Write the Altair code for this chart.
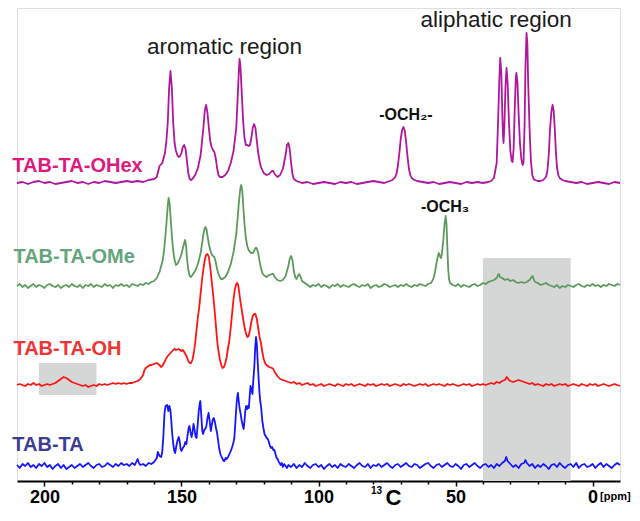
import altair as alt
import pandas as pd

# ---------------- data ----------------
series_names = ["TAB-TA-OHex", "TAB-TA-OMe", "TAB-TA-OH", "TAB-TA"]
series_offsets = [298, 195, 96, 15]
line_colors = ["#b0159f", "#5c9a5c", "#ff1414", "#1414ff"]
label_colors = ["#e0197f", "#63a57c", "#f03434", "#3d3d96"]
label_ppm = [211.7, 211.3, 211.3, 211.7]
label_y = [315, 224, 132, 36]

# (ppm, intensity) pairs
ohex = [(210,0),(208,1),(206,-1),(204,1),(202,2),(200,0),(198,1),(196,-1),(194,0),(192,1),(190,2),(188,0),(186,1),(184,-1),(182,1),(180,0),(178,2),(176,1),(174,0),(172,1),(170,2),(168,1),(166,2),(164,1),(162,3),(160,4),(159,6),(158,17),(157,20),(156,30),(155.5,42),(155,60),(154.5,95),(154,112),(153.5,95),(153,60),(152.5,40),(152,32),(151.5,28),(151,26),(150.5,27),(150,30),(149.5,36),(149,38),(148.5,34),(148,22),(147.5,10),(147,4),(146.5,3),(146,4),(145,8),(144,15),(143,28),(142,55),(141.5,72),(141,78),(140.5,70),(140,55),(139.5,42),(139,36),(138.5,33),(138,31),(137.5,25),(137,15),(136.5,8),(136,6),(135,6),(134,8),(133,12),(132,20),(131,32),(130,55),(129.5,85),(129,115),(128.8,124),(128.5,118),(128,90),(127.5,62),(127,45),(126.5,38),(126,38),(125.5,37),(125,38),(124.5,45),(124,55),(123.5,59),(123,55),(122.5,42),(122,30),(121.5,22),(121,16),(120,10),(119,8),(118,9),(117,12),(116.5,12),(116,9),(115,6),(114,8),(113,14),(112,28),(111.5,38),(111,40),(110.5,34),(110,20),(109.5,9),(109,4),(108,2),(107,1),(106,0),(104,1),(102,-1),(100,0),(98,1),(96,0),(94,-1),(92,1),(90,0),(88,1),(86,-1),(84,0),(82,1),(80,2),(78,1),(76,0),(74,2),(73,3),(72,6),(71.5,10),(71,18),(70.5,30),(70,44),(69.5,53),(69,56),(68.5,52),(68,40),(67.5,26),(67,14),(66.5,8),(66,5),(65,3),(64,2),(62,1),(60,0),(58,1),(56,-1),(54,0),(52,1),(50,0),(48,-1),(46,1),(44,0),(42,1),(40,0),(38,1),(37,2),(36,5),(35,20),(34.5,60),(34,105),(33.7,125),(33.3,110),(33,75),(32.7,48),(32.5,40),(32.2,55),(31.8,95),(31.4,115),(31,100),(30.5,60),(30,32),(29.5,22),(29.2,21),(28.8,35),(28.4,75),(28,105),(27.8,110),(27.4,100),(27,70),(26.5,40),(26,24),(25.5,18),(25.2,20),(24.8,60),(24.5,115),(24.1,150),(23.8,140),(23.5,100),(23,55),(22.5,22),(22,8),(21.5,4),(21,3),(20,2),(19,2),(18,3),(17,6),(16.5,12),(16,28),(15.5,55),(15,72),(14.6,78),(14.2,72),(13.8,55),(13.4,32),(13,16),(12.5,8),(12,5),(11,3),(10,2),(8,1),(6,0),(4,1),(2,-1),(0,0),(-2,1),(-4,0),(-6,-1),(-8,1),(-10,0)]

ome = [(210,0),(209,2),(208,-1),(207,1),(206,-2),(205,0),(204,2),(203,-1),(202,1),(201,0),(200,-2),(199,1),(198,2),(197,0),(196,-1),(195,1),(194,-2),(193,0),(192,1),(191,-1),(190,2),(189,0),(188,-1),(187,1),(186,-2),(185,1),(184,0),(183,2),(182,-1),(181,1),(180,0),(179,-1),(178,2),(177,0),(176,1),(175,-2),(174,1),(173,0),(172,2),(171,0),(170,1),(169,-1),(168,2),(167,1),(166,0),(165,2),(164,1),(163,3),(162,2),(161,4),(160,5),(159,8),(158,14),(157,24),(156.5,32),(156,45),(155.5,62),(155,80),(154.7,88),(154.3,82),(154,70),(153.5,50),(153,35),(152.5,26),(152,21),(151.5,22),(151,25),(150.5,28),(150,32),(149.3,40),(148.7,46),(148.3,40),(148,28),(147.5,16),(147,10),(146.5,9),(146,11),(145,15),(144,22),(143,33),(142.5,42),(142,52),(141.5,58),(141.2,59),(140.8,56),(140.5,50),(140,42),(139.5,36),(139,32),(138.5,30),(138,29),(137.5,24),(137,17),(136.5,12),(136,9),(135.5,7),(135,7),(134,9),(133,14),(132,22),(131,34),(130,52),(129.5,68),(129,85),(128.5,98),(128.2,101),(127.8,95),(127.5,82),(127,62),(126.5,48),(126,40),(125.5,36),(125,34),(124.5,33),(124,33),(123.5,35),(123,38),(122.6,38),(122,33),(121.5,25),(121,18),(120.5,13),(120,11),(119,9),(118,11),(117,12),(116.5,12),(116,9),(115,6),(114,5),(113,6),(112,10),(111,20),(110.5,27),(110,30),(109.5,26),(109,15),(108.5,9),(108,7),(107.5,10),(107,12),(106.5,9),(106,5),(105,3),(104,1),(103,-1),(102,1),(101,0),(100,2),(99,-1),(98,1),(97,0),(96,-2),(95,1),(94,0),(93,2),(92,-1),(91,1),(90,0),(89,-1),(88,1),(87,2),(86,0),(85,-1),(84,1),(83,0),(82,2),(81,-2),(80,0),(79,1),(78,-1),(77,0),(76,2),(75,1),(74,-1),(73,0),(72,1),(71,-1),(70,1),(69,0),(68,2),(67,0),(66,-1),(65,1),(64,0),(63,2),(62,1),(61,0),(60,2),(59,3),(58.5,5),(58,8),(57.5,14),(57,22),(56.5,29),(56.1,33),(55.7,30),(55.3,28),(55,32),(54.5,45),(54,62),(53.6,70),(53.3,62),(53,40),(52.7,18),(52.4,7),(52,3),(51,1),(50,0),(49,2),(48,-1),(47,1),(46,0),(45,-1),(44,1),(43,2),(42,0),(41,1),(40,3),(39,2),(38,4),(37,5),(36,6),(35,8),(34.5,11),(34.2,12),(33.8,9),(33,8),(32,6),(31,7),(30,5),(29,6),(28,4),(27,3),(26,4),(25,3),(24,4),(23,6),(22.5,8),(21.9,10),(21.5,7),(21,4),(20,3),(19,1),(18,2),(17,3),(16,1),(15,0),(14,-1),(13,1),(12,-2),(11,0),(10,-1),(9,1),(8,0),(7,-1),(6,1),(5,2),(4,0),(3,-1),(2,1),(1,0),(0,2),(-1,0),(-2,1),(-3,-1),(-4,1),(-5,0),(-6,2),(-7,1),(-8,0),(-9,2),(-10,1)]

oh = [(210,0),(209,1),(208,0),(207,-1),(206,1),(205,0),(204,2),(203,0),(202,1),(201,-1),(200,0),(199,1),(198,0),(197,1),(196,2),(195,4),(194,6),(193,8),(192,7),(191,5),(190,3),(189,2),(188,1),(187,0),(186,-1),(185,0),(184,-2),(183,-1),(182,0),(181,-1),(180,1),(179,0),(178,1),(177,0),(176,1),(175,2),(174,1),(173,2),(172,1),(171,2),(170,1),(169,2),(168,2),(167,3),(166,4),(165,6),(164,10),(163.5,15),(163,17),(162,19),(161.5,20),(161,20),(160,21),(159,22),(158,20),(157.5,18),(157,19),(156,24),(155.5,27),(155,29),(154,32),(153,35),(152.5,36),(152,35),(151,36),(150,34),(149.5,35),(149,33),(148,28),(147.5,24),(147,22),(146.5,22),(146,25),(145.5,32),(145,42),(144.5,55),(144,68),(143.5,78),(143,92),(142.5,105),(142,116),(141.5,125),(141,130),(140.5,131),(140,128),(139.5,118),(139,105),(138.5,92),(138,78),(137.5,62),(137,45),(136.5,34),(136,26),(135.5,20),(135,17),(134.5,18),(134,22),(133.5,28),(133,37),(132.5,45),(132,58),(131.5,72),(131,86),(130.5,96),(130,101),(129.7,102),(129.3,100),(129,94),(128.5,84),(128,75),(127.5,66),(127,58),(126.5,52),(126,48),(125.5,49),(125,55),(124.5,63),(124,69),(123.5,71),(123,71),(122.5,66),(122,57),(121.5,48),(121,42),(120.5,33),(120,26),(119.5,22),(119,20),(118,18),(117,17),(116.5,16),(116,13),(115,9),(114,6),(113,5),(112,4),(111,3),(110,2),(109,3),(108,1),(107,2),(106,0),(105,1),(104,2),(103,0),(102,1),(101,-1),(100,0),(99,1),(98,-1),(97,0),(96,1),(95,0),(94,-1),(93,1),(92,0),(91,-1),(90,1),(89,0),(88,1),(87,-1),(86,0),(85,1),(84,0),(83,-1),(82,1),(81,0),(80,1),(79,-1),(78,0),(77,1),(76,0),(75,1),(74,-1),(73,0),(72,1),(71,0),(70,-1),(69,1),(68,0),(67,1),(66,0),(65,-1),(64,0),(63,1),(62,0),(61,1),(60,-1),(59,0),(58,1),(57,0),(56,1),(55,0),(54,-1),(53,1),(52,0),(51,1),(50,0),(49,-1),(48,0),(47,1),(46,0),(45,1),(44,-1),(43,0),(42,1),(41,0),(40,1),(39,0),(38,1),(37,2),(36,1),(35,3),(34,2),(33,4),(32,5),(31.3,8),(30.5,5),(30,4),(29,3),(28,4),(27,5),(26,4),(25,3),(24,2),(23,1),(22,2),(21,0),(20,1),(19,0),(18,-1),(17,1),(16,0),(15,1),(14,-1),(13,0),(12,1),(11,0),(10,1),(9,-1),(8,0),(7,1),(6,0),(5,-1),(4,1),(3,0),(2,-1),(1,1),(0,0),(-1,1),(-2,-1),(-3,0),(-4,1),(-5,0),(-6,-1),(-7,0),(-8,1),(-9,0),(-10,-1)]

ta = [(210,1),(209,-2),(208,2),(207,0),(206,3),(205,-1),(204,1),(203,-2),(202,2),(201,0),(200,3),(199,-1),(198,1),(197,-3),(196,0),(195,2),(194,-2),(193,1),(192,-3),(191,-1),(190,1),(189,-2),(188,0),(187,2),(186,-1),(185,1),(184,3),(183,0),(182,-2),(181,1),(180,2),(179,-1),(178,0),(177,3),(176,1),(175,-1),(174,2),(173,0),(172,3),(171,1),(170,2),(169,0),(168,3),(167,1),(166,7),(165.5,3),(165,1),(164,2),(163,0),(162,3),(161,2),(160,4),(159,8),(158.6,14),(158,10),(157.4,9),(157,14),(156.6,30),(156.2,52),(155.8,60),(155.2,61),(154.8,55),(154.4,60),(154,55),(153.7,45),(153.4,33),(153,22),(152.6,15),(152.3,13),(152,18),(151.5,25),(151,29),(150.6,24),(150.3,17),(150,15),(149.5,18),(149,20),(148.6,24),(148.2,22),(147.8,30),(147.4,38),(147.1,40),(146.7,34),(146.3,29),(146,33),(145.6,42),(145.2,36),(144.9,30),(144.5,28),(144.1,40),(143.7,55),(143.3,63),(143.1,65),(142.8,52),(142.4,35),(142.1,32),(141.7,36),(141.3,37),(140.9,40),(140.5,48),(140.1,53),(139.7,45),(139.3,35),(139,40),(138.6,46),(138.2,48),(137.8,44),(137.4,38),(137,33),(136.6,25),(136.2,17),(135.8,12),(135.5,10),(135,7),(134.6,5),(134.3,5),(133.9,8),(133.5,7),(133,9),(132.5,12),(132,15),(131.5,19),(131,24),(130.7,28),(130.3,45),(129.9,62),(129.6,70),(129.4,73),(129.1,65),(128.8,58),(128.4,52),(128,45),(127.6,40),(127.3,37),(127,45),(126.7,55),(126.4,60),(126,57),(125.7,60),(125.4,58),(125.1,70),(124.8,80),(124.4,76),(124.1,72),(123.8,85),(123.4,100),(123.1,118),(122.8,129),(122.5,122),(122.2,105),(121.8,85),(121.5,72),(121.2,64),(120.9,58),(120.5,45),(120.1,38),(119.7,32),(119.3,30),(118.9,28),(118.5,27),(118.1,24),(117.7,20),(117.3,18),(116.9,19),(116.5,16),(116.1,16),(115.7,12),(115.3,8),(114.9,7),(114.5,4),(114.2,3),(113.8,1),(113.4,3),(113,-1),(112.5,2),(112,0),(111.5,-2),(111,1),(110,-1),(109,2),(108,-2),(107,1),(106,-1),(105,3),(104,0),(103,-2),(102,1),(101,2),(100,-1),(99,1),(98,-3),(97,0),(96,2),(95,-1),(94,1),(93,-2),(92,2),(91,0),(90,-1),(89,2),(88,0),(87,-2),(86,1),(85,3),(84,0),(83,-1),(82,2),(81,-2),(80,1),(79,0),(78,2),(77,-1),(76,1),(75,3),(74,0),(73,-2),(72,1),(71,2),(70,-1),(69,1),(68,3),(67,0),(66,-1),(65,2),(64,1),(63,-2),(62,0),(61,2),(60,3),(59,0),(58,-2),(57,1),(56,2),(55,-1),(54,1),(53,3),(52,0),(51,-1),(50,2),(49,0),(48,-3),(47,1),(46,2),(45,-1),(44,1),(43,3),(42,0),(41,-2),(40,1),(39,2),(38,-1),(37,1),(36,-2),(35,2),(34,0),(33,3),(32,5),(31.5,9),(31,5),(30,2),(29,-1),(28,1),(27,-2),(26,2),(25,3),(24.5,6),(24,3),(23,0),(22,2),(21,-2),(20,1),(19,-1),(18,2),(17,0),(16,-3),(15,1),(14,2),(13,-1),(12,3),(11,0),(10,-2),(9,1),(8,2),(7,-1),(6,3),(5,-2),(4,1),(3,2),(2,-1),(1,0),(0,2),(-1,-2),(-2,1),(-3,3),(-4,-1),(-5,2),(-6,0),(-7,-2),(-8,1),(-9,3),(-10,1)]

spectra = [ohex, ome, oh, ta]

# grey highlight boxes
box_ppm_from = [40, 202]
box_ppm_to = [8, 181]
box_low = [0, 86]
box_high = [223, 118]

# annotations
region_text = ["aromatic region", "aliphatic region"]
region_ppm = [134.3, 35.2]
region_y = [434, 461]
group_text = ["-OCH\u2082-", "-OCH\u2083"]
group_ppm = [68.1, 53.8]
group_y = [366, 274]

tick_values = list(range(0, 201, 10))

# ---------------- build tables ----------------
rows = []
for name, off, pts in zip(series_names, series_offsets, spectra):
    for p, v in pts:
        rows.append({"series": name, "ppm": p, "y": off + v})
df_lines = pd.DataFrame(rows)

df_boxes = pd.DataFrame({"x1": box_ppm_from, "x2": box_ppm_to, "y1": box_low, "y2": box_high})
df_labels = pd.DataFrame({"name": series_names, "ppm": label_ppm, "y": label_y, "color": label_colors})
df_region = pd.DataFrame({"t": region_text, "ppm": region_ppm, "y": region_y})
df_group = pd.DataFrame({"t": group_text, "ppm": group_ppm, "y": group_y})
df_c = pd.DataFrame({"t": ["C"], "ppm": [72.7], "y": [-16.5]})
df_13 = pd.DataFrame({"t": ["13"], "ppm": [78.8], "y": [-10]})
df_unit = pd.DataFrame({"t": ["[ppm]"], "ppm": [-8.3], "y": [-16]})

FONT = "Liberation Sans"
x_scale = alt.Scale(domain=[-10, 210], reverse=True, nice=False, zero=False)
y_scale = alt.Scale(domain=[0, 473], nice=False, zero=False)
x_axis = alt.Axis(
    values=tick_values,
    labelExpr="datum.value % 50 === 0 ? datum.label : ''",
    tickSize={"condition": {"test": "datum.value % 50 === 0", "value": 5}, "value": 3},
    tickColor="black", tickWidth=1.5,
    domainColor="black", domainWidth=2,
    labelFont=FONT, labelFontSize=18, labelFontWeight="bold", labelColor="black",
    labelPadding=2, labelFlush=False, grid=False, title=None,
)

def X(field):
    return alt.X(field, type="quantitative", scale=x_scale, axis=x_axis)

def Y(field):
    return alt.Y(field, type="quantitative", scale=y_scale, axis=None)

boxes = alt.Chart(df_boxes).mark_rect(color="#d5d6d6").encode(
    x=X("x1"), x2="x2", y=Y("y1"), y2="y2")

lines = alt.Chart(df_lines).mark_line(strokeWidth=1.8, strokeJoin="round").encode(
    x=X("ppm"), y=Y("y"),
    color=alt.Color("series:N", scale=alt.Scale(domain=series_names, range=line_colors), legend=None),
)

labels = alt.Chart(df_labels).mark_text(
    align="left", baseline="middle", font=FONT, fontSize=20, fontWeight="bold"
).encode(x=X("ppm"), y=Y("y"), text="name:N", color=alt.Color("color:N", scale=None))

regions = alt.Chart(df_region).mark_text(
    align="center", baseline="middle", font=FONT, fontSize=22.5, color="#1a1a1a"
).encode(x=X("ppm"), y=Y("y"), text="t:N")

groups = alt.Chart(df_group).mark_text(
    align="center", baseline="middle", font=FONT, fontSize=16, fontWeight="bold", color="#111111"
).encode(x=X("ppm"), y=Y("y"), text="t:N")

c_title = alt.Chart(df_c).mark_text(
    align="center", baseline="middle", font=FONT, fontSize=22, fontWeight="bold", color="black"
).encode(x=X("ppm"), y=Y("y"), text="t:N")

c13 = alt.Chart(df_13).mark_text(
    align="center", baseline="middle", font=FONT, fontSize=10, fontWeight="bold", color="black"
).encode(x=X("ppm"), y=Y("y"), text="t:N")

unit = alt.Chart(df_unit).mark_text(
    align="center", baseline="middle", font=FONT, fontSize=11, fontWeight="bold", color="black"
).encode(x=X("ppm"), y=Y("y"), text="t:N")

chart = alt.layer(boxes, lines, labels, regions, groups, c_title, c13, unit).properties(
    width=603, height=473,
    autosize=alt.AutoSizeParams(type="none"),
    padding={"left": 9, "top": 0, "right": 12, "bottom": 28},
).configure_view(stroke=None).configure(font=FONT)

chart.save("out.html", embed_options={"renderer": "svg", "actions": False})
